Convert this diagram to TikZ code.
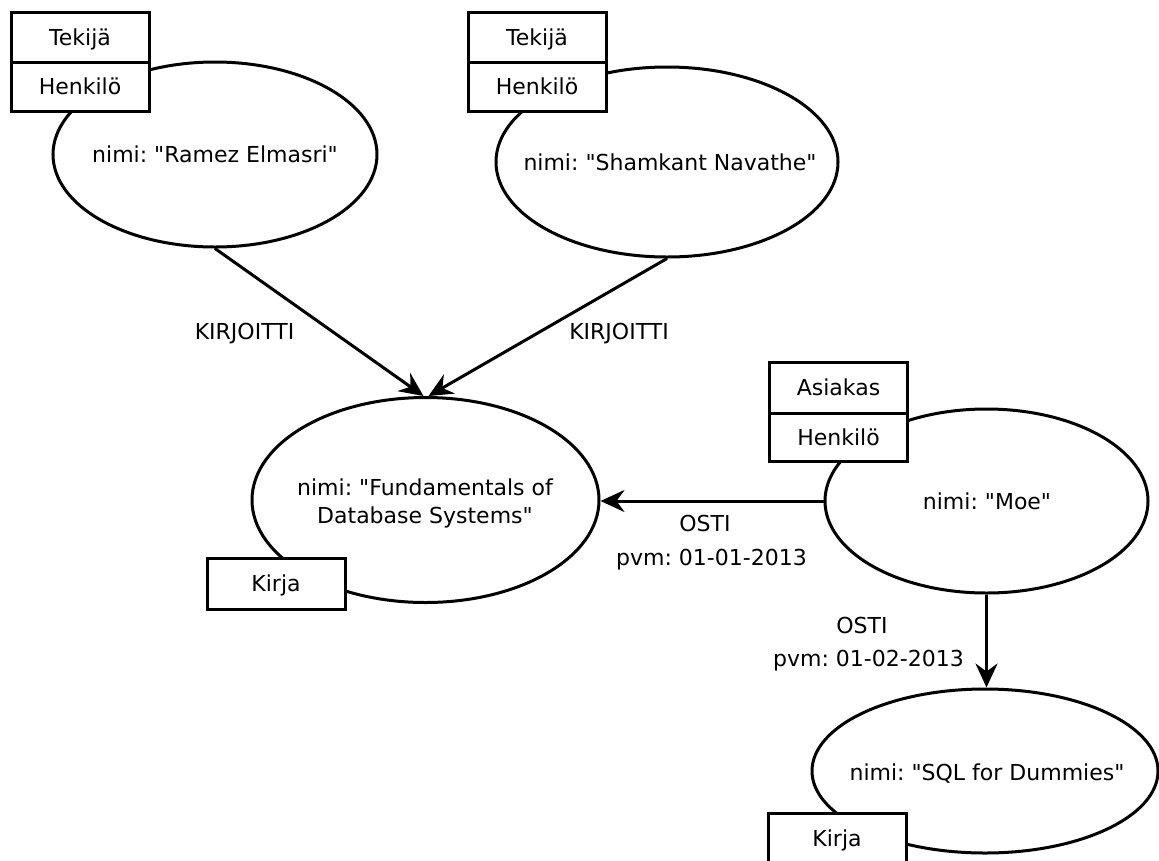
\documentclass[tikz,border=0pt]{standalone}
\usepackage{fontspec}
\setmainfont{DejaVu Sans}[Ligatures=TeXOff]
\usetikzlibrary{shapes.geometric,arrows.meta}
\frenchspacing
\begin{document}
\begin{tikzpicture}[x=1pt,y=-1pt,
  ent/.style={draw, ellipse, line width=3pt, inner sep=0pt, fill=white},
  lbl/.style={font=\fontsize{22}{28}\selectfont, inner sep=0pt, text height=16pt, text depth=0pt},
  tag/.style={draw, line width=3pt, fill=white, minimum width=138pt, inner sep=0pt,
    text height=16pt, text depth=0pt, font=\fontsize{22}{28}\selectfont},
  rel/.style={line width=3pt, -{Stealth[length=24pt,width=22pt,inset=8pt]}}]
\clip (0,0) rectangle (1159,860);
\useasboundingbox (0,0) rectangle (1159,860);
\fill[white] (0,0) rectangle (1159,860);

% entities
\node[ent, minimum width=324pt, minimum height=185pt] (e1) at (215,154.5) {};
\node[ent, minimum width=342pt, minimum height=190pt] (e2) at (667,162) {};
\node[ent, minimum width=347pt, minimum height=205pt] (e3) at (425.5,500) {};
\node[ent, minimum width=323pt, minimum height=184pt] (e4) at (986.5,501) {};
\node[ent, minimum width=346pt, minimum height=164pt] (e5) at (985,771) {};

\node[lbl] (t1) at (215,154.5) {nimi: "Ramez Elmasri"};
\node[lbl] (t2) at (670,162) {nimi: "Shamkant Navathe"};
\node[lbl] (t3a) at (425,487) {nimi: "Fundamentals of};
\node[lbl] (t3b) at (425,515) {Database Systems"};
\node[lbl] (t4) at (987,501) {nimi: "Moe"};
\node[lbl] (t5) at (987,772) {nimi: "SQL for Dummies"};

% label boxes
\node[tag, minimum height=50pt] (b1a) at (80,37) {Tekijä};
\node[tag, minimum height=49pt] (b1b) at (80,86.5) {Henkilö};
\node[tag, minimum height=50pt] (b2a) at (537,37) {Tekijä};
\node[tag, minimum height=49pt] (b2b) at (537,86.5) {Henkilö};
\node[tag, minimum height=51pt] (b4a) at (838.5,387.5) {Asiakas};
\node[tag, minimum height=48pt] (b4b) at (838.5,437) {Henkilö};
\node[tag, minimum height=51pt] (b3) at (276,583.5) {Kirja};
\node[tag, minimum height=50pt] (b5) at (837,838) {Kirja};

% relationships
\draw[rel] (e1.south) -- ([xshift=-2pt]e3.north);
\draw[rel] (e2.south) -- ([xshift=3pt]e3.north);
\draw[rel] (e4.west) -- (e4.west -| e3.east);
\draw[rel] (e4.south) -- (e4.south |- e5.north);

\node[lbl] (k1) at (244.5,331) {KIRJOITTI};
\node[lbl] (k2) at (619,331) {KIRJOITTI};
\node[lbl] (o1) at (705,523) {OSTI};
\node[lbl] (p1) at (711.5,557) {pvm: 01-01-2013};
\node[lbl] (o2) at (862,625) {OSTI};
\node[lbl] (p2) at (868.5,658) {pvm: 01-02-2013};
\end{tikzpicture}
\end{document}
